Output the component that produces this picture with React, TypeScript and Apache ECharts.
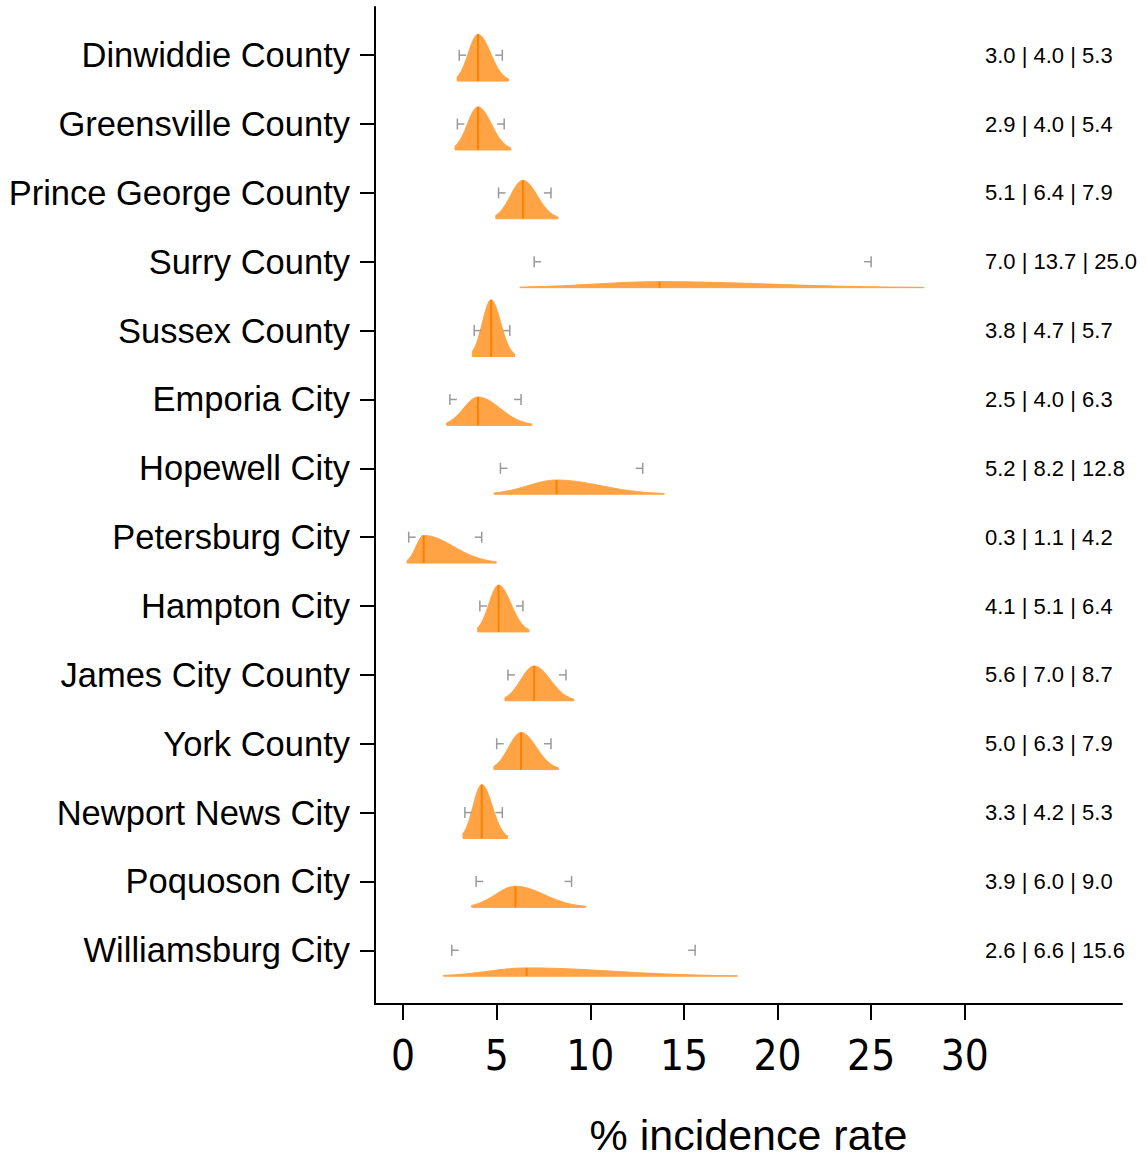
import React, { useEffect, useRef } from "react";
import * as echarts from "echarts";

const categories = [
  "Dinwiddie County",
  "Greensville County",
  "Prince George County",
  "Surry County",
  "Sussex County",
  "Emporia City",
  "Hopewell City",
  "Petersburg City",
  "Hampton City",
  "James City County",
  "York County",
  "Newport News City",
  "Poquoson City",
  "Williamsburg City",
];
const lowerVals = [3.0, 2.9, 5.1, 7.0, 3.8, 2.5, 5.2, 0.3, 4.1, 5.6, 5.0, 3.3, 3.9, 2.6];
const medianVals = [4.0, 4.0, 6.4, 13.7, 4.7, 4.0, 8.2, 1.1, 5.1, 7.0, 6.3, 4.2, 6.0, 6.6];
const upperVals = [5.3, 5.4, 7.9, 25.0, 5.7, 6.3, 12.8, 4.2, 6.4, 8.7, 7.9, 5.3, 9.0, 15.6];
const xTicks = [0, 5, 10, 15, 20, 25, 30];

const FONT = "'Liberation Sans', Arial, sans-serif";
const FILL = "#ffa345";
const MEDIAN_COLOR = "#ff8000";
const MARK_COLOR = "#9a9a9a";
const BASE_OFFSET = 0.376;
const Z_LO = -2.18;
const Z_HI = 2.45;
const TEXT_OFFSET_PX = 610;

export default function App() {
  const ref = useRef<HTMLDivElement>(null);
  useEffect(() => {
    document.body.style.margin = "0";
    const chart = echarts.init(ref.current!, null, { renderer: "svg" });
    const data = categories.map((_, i) => [i, lowerVals[i], medianVals[i], upperVals[i]]);
    const rowTicks = categories.map((_, i) => i);
    chart.setOption({
      animation: false,
      grid: { left: 375, right: 25, top: 7, bottom: 152 },
      xAxis: {
        type: "value",
        min: -1.5,
        max: 38.4,
        splitLine: { show: false },
        axisLine: { show: true, onZero: false, lineStyle: { color: "#000", width: 2 } },
        axisTick: { show: true, customValues: xTicks, length: 16, lineStyle: { color: "#000", width: 2 } },
        axisLabel: {
          customValues: xTicks,
          fontSize: 42,
          fontFamily: "'Liberation Sans Narrow', 'DejaVu Sans Condensed', Arial, sans-serif",
          color: "#000",
          margin: 30,
        },
        name: "% incidence rate",
        nameLocation: "middle",
        nameGap: 109,
        nameTextStyle: { fontSize: 43, fontFamily: FONT, color: "#000" },
      },
      yAxis: {
        type: "value",
        inverse: true,
        min: -0.7,
        max: 13.78,
        splitLine: { show: false },
        axisLine: { show: true, onZero: false, lineStyle: { color: "#000", width: 2 } },
        axisTick: { show: true, customValues: rowTicks, length: 15, lineStyle: { color: "#000", width: 2 } },
        axisLabel: {
          customValues: rowTicks,
          formatter: (v: number) => categories[Math.round(v)] ?? "",
          fontSize: 34.5,
          fontFamily: FONT,
          color: "#000",
          margin: 25,
        },
      },
      series: [
        {
          type: "custom",
          clip: false,
          data,
          encode: { x: [1, 2, 3], y: 0 },
          renderItem: (params: any, api: any) => {
            const i = api.value(0);
            const lo = api.value(1);
            const m = api.value(2);
            const hi = api.value(3);
            const sL = (m - lo) / 1.96;
            const sR = (hi - m) / 1.96;
            const peak = 2 / (Math.sqrt(2 * Math.PI) * (sL + sR));
            const base = i + BASE_OFFSET;
            const x0 = m + Z_LO * sL;
            const x1 = m + Z_HI * sR;
            const N = 120;
            const pts: number[][] = [api.coord([x0, base])];
            for (let k = 0; k <= N; k++) {
              const x = x0 + ((x1 - x0) * k) / N;
              const s = x < m ? sL : sR;
              const d = peak * Math.exp(-0.5 * ((x - m) / s) ** 2);
              pts.push(api.coord([x, base - d]));
            }
            pts.push(api.coord([x1, base]));
            const mb = api.coord([m, base]);
            const mt = api.coord([m, base - peak]);
            const cl = api.coord([lo, i]);
            const ch = api.coord([hi, i]);
            const markStyle = { stroke: MARK_COLOR, lineWidth: 1.5 };
            return {
              type: "group",
              children: [
                {
                  type: "polygon",
                  shape: { points: pts },
                  style: { fill: FILL, stroke: FILL, lineWidth: 1 },
                },
                {
                  type: "line",
                  shape: { x1: mb[0], y1: mb[1], x2: mt[0], y2: mt[1] },
                  style: { stroke: MEDIAN_COLOR, lineWidth: 2 },
                },
                {
                  type: "line",
                  shape: { x1: cl[0], y1: cl[1] - 5.5, x2: cl[0], y2: cl[1] + 5.5 },
                  style: markStyle,
                },
                {
                  type: "line",
                  shape: { x1: cl[0], y1: cl[1], x2: cl[0] + 7, y2: cl[1] },
                  style: markStyle,
                },
                {
                  type: "line",
                  shape: { x1: ch[0], y1: ch[1] - 5.5, x2: ch[0], y2: ch[1] + 5.5 },
                  style: markStyle,
                },
                {
                  type: "line",
                  shape: { x1: ch[0] - 7, y1: ch[1], x2: ch[0], y2: ch[1] },
                  style: markStyle,
                },
                {
                  type: "text",
                  x: params.coordSys.x + TEXT_OFFSET_PX,
                  y: cl[1],
                  style: {
                    text: `${lo.toFixed(1)} | ${m.toFixed(1)} | ${hi.toFixed(1)}`,
                    fontSize: 22,
                    fontFamily: FONT,
                    fill: "#000",
                    align: "left",
                    verticalAlign: "middle",
                  },
                },
              ],
            };
          },
        },
      ],
    });
    return () => chart.dispose();
  }, []);
  return <div ref={ref} style={{ width: 1147, height: 1161 }} />;
}
